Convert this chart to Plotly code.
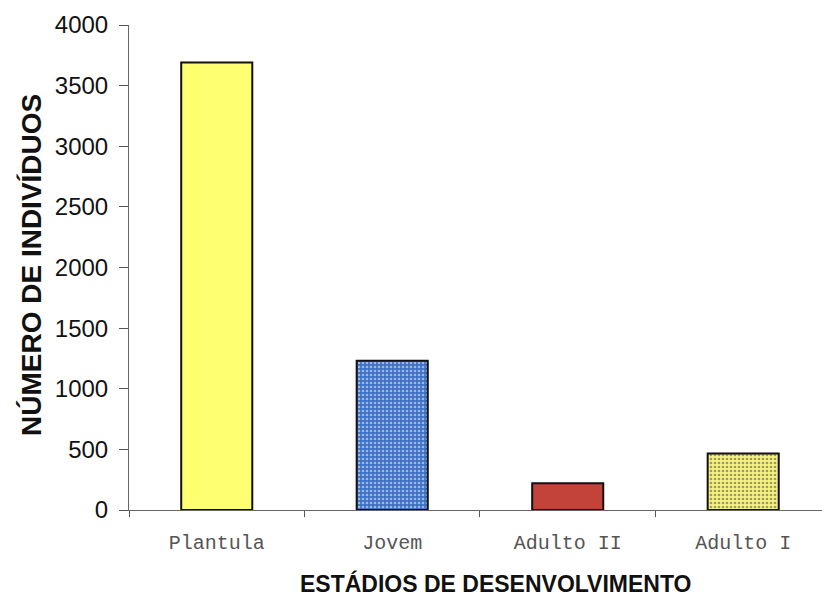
import plotly.graph_objects as go

# Estádios de desenvolvimento e número de indivíduos
estadios = ["Plantula", "Jovem", "Adulto II", "Adulto I"]
individuos = [3690, 1230, 220, 467]

cores = ["#FFFF72", "#3C70C6", "#C3423A", "#F6F27E"]
padroes = ["", ".", "", "."]
cores_pontos = ["#FFFF72", "#1F3C78", "#C3423A", "#8C8A5A"]

fig = go.Figure(
    go.Bar(
        x=estadios,
        y=individuos,
        width=0.405,
        marker=dict(
            color=cores,
            line=dict(color="#111111", width=2),
            pattern=dict(
                shape=padroes,
                fgcolor=cores_pontos,
                bgcolor=cores,
                size=4,
                solidity=0.35,
            ),
        ),
        showlegend=False,
    )
)

fig.update_layout(
    width=822,
    height=613,
    margin=dict(l=129, r=0, t=25, b=103),
    paper_bgcolor="white",
    plot_bgcolor="white",
    xaxis=dict(
        type="category",
        range=[-0.5, 3.449],
        tickson="boundaries",
        ticks="outside",
        ticklen=6,
        tickcolor="#555555",
        showline=True,
        linecolor="#666666",
        linewidth=1,
        showgrid=False,
        ticklabelstandoff=14,
        tickfont=dict(family="Liberation Mono, Courier New, monospace", size=20, color="#555555"),
    ),
    yaxis=dict(
        range=[0, 4000],
        tickvals=[0, 500, 1000, 1500, 2000, 2500, 3000, 3500, 4000],
        ticks="outside",
        ticklen=9,
        tickcolor="#555555",
        showline=True,
        linecolor="#666666",
        linewidth=1,
        showgrid=False,
        zeroline=False,
        ticklabelstandoff=6,
        tickfont=dict(family="Liberation Sans, Arial, sans-serif", size=24, color="#111111"),
    ),
    annotations=[
        dict(
            text="<b>NÚMERO DE INDIVÍDUOS</b>",
            xref="paper", yref="paper",
            x=(31 - 129) / 693, y=(510 - 265) / 485,
            xanchor="center", yanchor="middle",
            textangle=-90, showarrow=False,
            font=dict(family="Liberation Sans, Arial, sans-serif", size=28, color="#111111"),
        ),
        dict(
            text="<b>ESTÁDIOS DE DESENVOLVIMENTO</b>",
            xref="paper", yref="paper",
            x=(495 - 129) / 693, y=-(583 - 510) / 485,
            xanchor="center", yanchor="middle",
            showarrow=False,
            font=dict(family="Liberation Sans, Arial, sans-serif", size=23, color="#111111"),
        ),
    ],
)

fig.write_html("out.html")
